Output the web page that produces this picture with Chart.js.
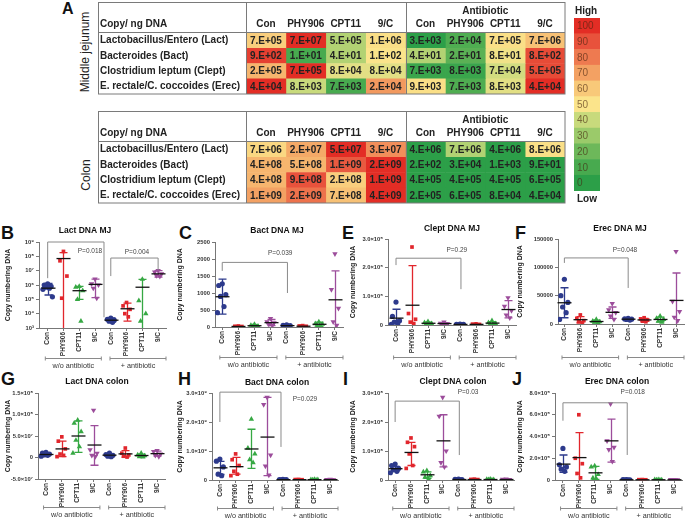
<!DOCTYPE html>
<html><head><meta charset="utf-8">
<script src="https://cdn.jsdelivr.net/npm/chart.js@4.4.1/dist/chart.umd.min.js"></script>
<style>
html,body{margin:0;padding:0;background:#fff}
body{width:685px;height:520px;position:relative;overflow:hidden;font-family:"Liberation Sans",Arial,sans-serif}
canvas{position:absolute}
.L{position:absolute;font-weight:bold;font-size:18px;line-height:1;color:#111}
.V{position:absolute;font-size:12px;line-height:1;color:#222;transform:translate(-50%,-50%) rotate(-90deg);white-space:nowrap}
</style></head><body>
<div class="L" style="left:62px;top:1px;font-size:16px">A</div>
<div class="V" style="left:85px;top:52px">Middle jejunum</div>
<div class="V" style="left:86px;top:175px">Colon</div>
<div class="L" style="left:1px;top:224px">B</div>
<div class="L" style="left:179px;top:224px">C</div>
<div class="L" style="left:342px;top:224px">E</div>
<div class="L" style="left:515px;top:224px">F</div>
<div class="L" style="left:1px;top:370px">G</div>
<div class="L" style="left:178px;top:370px">H</div>
<div class="L" style="left:343px;top:370px">I</div>
<div class="L" style="left:512px;top:370px">J</div>
<script>
const F = '"Liberation Sans", Arial, sans-serif';
Chart.defaults.font.family = F;

// ---------- Heatmap data ----------
const hmCols = ['Con','PHY906','CPT11','9/C','Con','PHY906','CPT11','9/C'];
const hmRows = ['Lactobacillus/Entero (Lact)','Bacteroides (Bact)','Clostridium leptum (Clept)','E. rectale/C. coccoides (Erec)'];
const mjValues = [
 ['7.E+05','7.E+07','5.E+05','1.E+06','3.E+03','2.E+04','7.E+05','7.E+06'],
 ['9.E+02','1.E+01','4.E+01','1.E+02','4.E+01','2.E+01','8.E+01','8.E+02'],
 ['2.E+05','7.E+05','8.E+04','8.E+04','7.E+03','8.E+03','7.E+04','5.E+05'],
 ['4.E+04','8.E+03','7.E+03','2.E+04','9.E+03','7.E+03','8.E+03','4.E+04']];
const mjLevels = [
 [58,100,35,52,0,12,52,62],
 [95,10,35,50,35,15,48,92],
 [65,100,45,45,5,5,42,92],
 [100,40,10,72,52,12,45,100]];
const colonValues = [
 ['7.E+06','2.E+07','5.E+07','3.E+07','4.E+06','7.E+06','4.E+06','8.E+06'],
 ['4.E+08','5.E+08','1.E+09','2.E+09','2.E+02','3.E+04','1.E+03','9.E+01'],
 ['4.E+08','9.E+08','2.E+08','1.E+09','4.E+05','4.E+05','4.E+05','6.E+05'],
 ['1.E+09','2.E+09','7.E+08','4.E+09','2.E+05','6.E+05','8.E+04','4.E+04']];
const colonLevels = [
 [55,68,100,75,0,35,0,52],
 [65,65,88,100,0,0,0,0],
 [65,90,58,100,0,0,0,0],
 [70,82,62,100,0,0,0,0]];
const legendLevels = [100,90,80,70,60,50,40,30,20,10,0];
const legendColors = ['#2c9f48','#48aa4f','#6db85a','#9bca6a','#c8da7c','#fbe48b','#f8c979','#f3a163','#ee7a50','#e8523c','#e32d25'];

// ---------- Dot plot data ----------
const GROUPS = ['Con','PHY906','CPT11','9/C','Con','PHY906','CPT11','9/C'];
const COLORS = ['#2d3a8c','#e1262c','#36a843','#9c4d9b'];
const SHAPES = ['circle','rect','triangle','triangle'];
const ROTS = [0,0,0,180];
const JITTER = [0,-0.22,0.22,-0.11,0.11,-0.3,0.3];

// B Lact DNA MJ
const lactMJ_pts = [
 [1.2e6,1.0e6,8e5,7e5,6e5,5e5,1.5e5],
 [2.2e8,4.9e7,4.2e6,1.2e5],
 [8e5,7e5,4e5,1e5,3e3],
 [2.6e6,1.2e6,1e6,6e5,1.2e5],
 [5e3,4e3,3.5e3,3e3,2.5e3],
 [6e4,3.5e4,2e4,1e4,6e3],
 [2.5e6,8e4,1e4,3e3],
 [1e7,8e6,6e6,4.5e6,4e6]];
const lactMJ_mean = [6e5,7e7,4e5,1.1e6,3.5e3,2.2e4,7e5,6e6];
const lactMJ_lo = [2e5,0,1e5,1.3e5,2.5e3,3e3,0,3.5e6];
const lactMJ_hi = [1.3e6,1.8e8,8e5,2.6e6,5e3,5.5e4,2.5e6,1e7];
// C Bact DNA MJ
const bactMJ_pts = [
 [1270,1220,950,900,600,420],
 [30,20,15,10,5],
 [80,50,30,20,10],
 [250,150,120,80,40],
 [60,50,40,30,20],
 [40,30,20,15,10],
 [150,100,80,50,20],
 [2150,1100,550,150,50]];
const bactMJ_mean = [890,16,38,128,40,23,80,800];
const bactMJ_lo = [380,5,10,40,20,10,20,-50];
const bactMJ_hi = [1410,28,70,220,60,36,140,1650];
// E Clept DNA MJ
const cleptMJ_pts = [
 [8e4,3e4,1.5e4,1e4,5e3,2e3],
 [2.72e5,4e4,2e4,1e4,5e3],
 [1.2e4,8e3,5e3,3e3,2e3],
 [1e4,6e3,4e3,3e3,2e3],
 [3e3,2e3,2e3,1e3,1e3],
 [4e3,3e3,2e3,1e3,1e3],
 [1.5e4,8e3,5e3,3e3,2e3],
 [9.5e4,6.5e4,5e4,3.5e4,2.5e4]];
const cleptMJ_mean = [2.4e4,6.9e4,6e3,5e3,2e3,2.2e3,6.6e3,5.4e4];
const cleptMJ_lo = [-5e3,-6e4,2e3,2e3,1e3,1e3,2e3,2.5e4];
const cleptMJ_hi = [5.5e4,2.07e5,1e4,8e3,3e3,3.5e3,1.2e4,8.5e4];
// F Erec DNA MJ
const erecMJ_pts = [
 [79000,50000,38000,30000,20000,8000],
 [16000,10000,6000,4000,2000],
 [8000,5000,4000,3000,2000],
 [36000,25000,20000,14000,8000],
 [10000,9000,8500,8000,7000],
 [11000,9000,7000,5000,4000],
 [14000,10000,8000,5000,3000],
 [128000,40000,22000,12000,6000]];
const erecMJ_mean = [37500,7600,4400,20600,8500,7200,8000,41600];
const erecMJ_lo = [11000,2000,2000,10000,7500,4500,4000,-5000];
const erecMJ_hi = [64000,13000,7000,30000,9500,10000,12000,90000];
// G Lact DNA colon
const lactCol_pts = [
 [1.2e7,1e7,8e6,6e6,5e6,3e6],
 [4.8e7,3.8e7,2e7,8e6,5e6,2e6],
 [8.7e7,8e7,6e7,4e7,2.5e7,1e7],
 [1.1e8,1.8e7,1e7,5e6,2e6],
 [1e7,7e6,5e6,3e6,2e6],
 [2.2e7,1e7,6e6,3e6,1e6],
 [1e7,6e6,4e6,2e6,1e6],
 [1.6e7,1.4e7,8e6,5e6,2e6]];
const lactCol_mean = [7e6,2e7,5e7,2.9e7,5.4e6,8.4e6,4.6e6,9e6];
const lactCol_lo = [4e6,2e6,1.2e7,-1.8e7,2.5e6,1e6,1.5e6,3e6];
const lactCol_hi = [1e7,3.8e7,8.5e7,7.4e7,8e6,1.6e7,8e6,1.5e7];
// H Bact DNA colon
const bactCol_pts = [
 [7.2e8,6.5e8,4.5e8,2e8,1.5e8],
 [9e8,7e8,5e8,3e8,2e8,1.5e8],
 [2.1e9,1.1e9,9e8,7e8,6e8],
 [2.85e9,2.6e9,8.6e8,4.8e8,1.7e8],
 [2e7,1.5e7,1e7,8e6,5e6],
 [2e7,1.5e7,1e7,8e6,5e6],
 [2e7,1.5e7,1e7,8e6,5e6],
 [2e7,1.5e7,1e7,8e6,5e6]];
const bactCol_mean = [4.2e8,4.6e8,1.07e9,1.48e9,1.2e7,1.2e7,1.2e7,1.2e7];
const bactCol_lo = [1.9e8,2e8,4e8,1.5e8,5e6,5e6,5e6,5e6];
const bactCol_hi = [6.4e8,7.8e8,1.75e9,2.85e9,2e7,2e7,2e7,2e7];
// I Clept DNA colon
const cleptCol_pts = [
 [5.5e7,5e7,4e7,3.5e7,3e7,2.5e7],
 [1.45e8,1.3e8,1.15e8,9e7,5e7,4e7],
 [3.2e7,2.8e7,1.5e7,1e7,3e6],
 [2.85e8,2.2e8,1e8,6e7,4.5e7],
 [3e6,2e6,1.5e6,1e6,5e5],
 [3e6,2e6,1.5e6,1e6,5e5],
 [3e6,2e6,1.5e6,1e6,5e5],
 [3e6,2e6,1.5e6,1e6,5e5]];
const cleptCol_mean = [3.9e7,9.5e7,1.8e7,1.35e8,1.6e6,1.6e6,1.6e6,1.6e6];
const cleptCol_lo = [3e7,5e7,6e6,4.5e7,5e5,5e5,5e5,5e5];
const cleptCol_hi = [4.7e7,1.3e8,2.8e7,2.25e8,3e6,3e6,3e6,3e6];
// J Erec DNA colon
const erecCol_pts = [
 [2.9e5,1.4e5,1.2e5,1e5,8e4],
 [6e5,2e5,1.5e5,6e4,2e4],
 [1.3e5,1.2e5,5e4,2e4,1e4],
 [7e5,3.6e5,3e5,2.8e5,1.7e5],
 [4e3,3e3,2e3,1e3,1e3],
 [4e3,3e3,2e3,1e3,1e3],
 [4e3,3e3,2e3,1e3,1e3],
 [4e3,3e3,2e3,1e3,1e3]];
const erecCol_mean = [1.46e5,2.06e5,6.6e4,3.6e5,2.2e3,2.2e3,2.2e3,2.2e3];
const erecCol_lo = [7e4,-2e4,5e3,1.65e5,1e3,1e3,1e3,1e3];
const erecCol_hi = [2.3e5,4.35e5,1.25e5,5.6e5,4e3,4e3,4e3,4e3];

// ---------- helpers ----------
const SUP = '⁰¹²³⁴⁵⁶⁷⁸⁹';
const sup = n => String(n).split('').map(d => d === '-' ? '⁻' : SUP[+d]).join('');
const sci = v => { if (v === 0) return '0'; const e = Math.floor(Math.log10(Math.abs(v)) + 1e-9); return (v / 10 ** e).toFixed(1) + '×10' + sup(e); };
const pow10 = v => '10' + sup(Math.round(Math.log10(v)));
const plain = v => String(v);

function mk(l, t, w, h) {
  const cv = document.createElement('canvas');
  cv.width = w; cv.height = h;
  cv.style.left = l + 'px'; cv.style.top = t + 'px';
  cv.style.width = w + 'px'; cv.style.height = h + 'px';
  document.body.appendChild(cv);
  return cv;
}
function hex2rgb(h) { return [1, 3, 5].map(i => parseInt(h.substr(i, 2), 16)); }
function levelColor(l) {
  const f = Math.max(0, Math.min(100, l)) / 10, i = Math.min(9, Math.floor(f)), t = f - i;
  const a = hex2rgb(legendColors[i]), b = hex2rgb(legendColors[i + 1]);
  return 'rgb(' + a.map((v, k) => Math.round(v + (b[k] - v) * t)).join(',') + ')';
}

// ---------- Heatmaps ----------
function heatmap(values, levels, g) {
  const cv = mk(g.l, g.t, g.w, g.h);
  const datasets = hmCols.map((c, j) => ({
    data: hmRows.map(() => [j, j + 1]),
    backgroundColor: hmRows.map((_, i) => levelColor(levels[i][j])),
    borderWidth: 0, barPercentage: 1, categoryPercentage: 1, grouped: false
  }));
  new Chart(cv, {
    type: 'bar', data: {labels: hmRows, datasets},
    options: {
      indexAxis: 'y', responsive: false, animation: false, events: [],
      layout: {padding: {left: 4, right: g.w - g.right, top: 2, bottom: g.h - g.bottom}},
      plugins: {legend: {display: false}, tooltip: {enabled: false}},
      scales: {
        x: {type: 'linear', position: 'top', min: 0, max: 8,
            afterBuildTicks: s => { s.ticks = hmCols.map((_, j) => ({value: j + 0.5})); },
            afterFit: s => { s.height = g.top - 2; },
            ticks: {callback: (v, i) => hmCols[i], font: {size: 10, weight: 'bold'}, color: '#222', padding: 3, maxRotation: 0, autoSkip: false},
            grid: {display: false, drawTicks: false}, border: {display: false}},
        y: {afterFit: s => { s.width = g.left - 4; },
            ticks: {crossAlign: 'far', font: {size: 10, weight: 'bold'}, color: '#222', padding: 0},
            grid: {display: false, drawTicks: false}, border: {display: false}}
      }
    },
    plugins: [{id: 'hm', afterDraw(chart) {
      const c = chart.ctx, ca = chart.chartArea, xs = chart.scales.x, ys = chart.scales.y;
      c.save();
      c.font = 'bold 10px ' + F; c.fillStyle = '#222'; c.textAlign = 'center'; c.textBaseline = 'middle';
      values.forEach((row, i) => row.forEach((t, j) => c.fillText(t, xs.getPixelForValue(j + 0.5), ys.getPixelForValue(i) + 0.5)));
      c.strokeStyle = '#7a7a7a'; c.lineWidth = 1;
      c.strokeRect(2.5, 2.5, Math.round(ca.right) - 2.5, Math.round(ca.bottom) - 2.5);
      [0, 4].forEach(v => { const x = Math.round(xs.getPixelForValue(v)) + 0.5; c.beginPath(); c.moveTo(x, 2.5); c.lineTo(x, ca.bottom); c.stroke(); });
      const yh = Math.round(ca.top) - 0.5;
      c.beginPath(); c.moveTo(2.5, yh); c.lineTo(ca.right, yh); c.stroke();
      c.textAlign = 'left'; c.textBaseline = 'alphabetic';
      c.fillText('Copy/ ng DNA', 4, g.top - 6);
      c.textAlign = 'center'; c.textBaseline = 'middle';
      c.fillText('Antibiotic', xs.getPixelForValue(6), 11);
      c.restore();
    }}]
  });
}
heatmap(mjValues, mjLevels, {l: 96, t: 0, w: 474, h: 100, left: 150, right: 469, top: 33, bottom: 97});
heatmap(colonValues, colonLevels, {l: 96, t: 109, w: 474, h: 100, left: 150, right: 469, top: 33, bottom: 98});

// ---------- Legend ----------
(function () {
  const g = {l: 570, t: 0, w: 40, h: 210};
  const cv = mk(g.l, g.t, g.w, g.h);
  new Chart(cv, {
    type: 'bar',
    data: {labels: legendLevels.map(String), datasets: [{data: legendLevels.map(() => [0, 1]), backgroundColor: legendLevels.map(levelColor), borderWidth: 0, barPercentage: 1, categoryPercentage: 1}]},
    options: {
      indexAxis: 'y', responsive: false, animation: false, events: [],
      layout: {padding: {left: 4, right: 10, top: 18, bottom: 19}},
      plugins: {legend: {display: false}, tooltip: {enabled: false}},
      scales: {x: {display: false, min: 0, max: 1}, y: {display: false}}
    },
    plugins: [{id: 'lg', afterDraw(chart) {
      const c = chart.ctx, ca = chart.chartArea, ys = chart.scales.y;
      c.save();
      c.font = '10px ' + F; c.textBaseline = 'middle'; c.textAlign = 'left'; c.fillStyle = 'rgba(70,35,15,0.62)';
      legendLevels.forEach((v, i) => c.fillText(String(v), ca.left + 3, ys.getPixelForValue(i) + 0.5));
      c.fillStyle = '#222'; c.font = 'bold 10px ' + F;
      c.fillText('High', ca.left + 1, 11);
      c.fillText('Low', ca.left + 3, 199);
      c.restore();
    }}]
  });
})();

// ---------- Dot panels ----------
function overlay(p) {
  return {id: 'ov', afterDraw(chart) {
    const c = chart.ctx, xs = chart.scales.x, ys = chart.scales.y, ca = chart.chartArea;
    const Y = v => (p.log && v <= 0) ? ca.bottom : ys.getPixelForValue(v);
    c.save();
    for (let g = 0; g < 8; g++) {
      const x = Math.round(xs.getPixelForValue(g)) + 0.5;
      const yh = Y(p.hi[g]), ylRaw = Y(p.lo[g]), yl = Math.min(ca.bottom, ylRaw), ym = Y(p.mean[g]);
      c.strokeStyle = COLORS[g % 4]; c.lineWidth = 1.3;
      c.beginPath(); c.moveTo(x, yl); c.lineTo(x, yh);
      c.moveTo(x - 4, yh); c.lineTo(x + 4, yh);
      if (ylRaw < ca.bottom - 0.5) { c.moveTo(x - 4, yl); c.lineTo(x + 4, yl); }
      c.stroke();
      c.strokeStyle = '#111'; c.beginPath(); c.moveTo(x - 7, ym); c.lineTo(x + 7, ym); c.stroke();
    }
    c.strokeStyle = '#8a8a8a'; c.lineWidth = 1;
    p.brackets.forEach(b => {
      const x1 = xs.getPixelForValue(b.x1), x2 = xs.getPixelForValue(b.x2), yt = Y(b.top);
      c.beginPath(); c.moveTo(x1, Y(b.l)); c.lineTo(x1, yt); c.lineTo(x2, yt); c.lineTo(x2, Y(b.r)); c.stroke();
      c.fillStyle = '#444'; c.font = '6.5px ' + F; c.textAlign = 'center'; c.textBaseline = 'middle';
      c.fillText(b.text, xs.getPixelForValue(b.tx), Y(b.ty));
    });
    const by = Math.round(ca.bottom + p.brk) + 0.5;
    c.fillStyle = '#333'; c.font = '7.2px ' + F; c.textAlign = 'center'; c.textBaseline = 'middle';
    [[-0.15, 3.4, 'w/o antibiotic'], [3.95, 7.5, '+ antibiotic']].forEach(([a, b2, t]) => {
      const x1 = xs.getPixelForValue(a), x2 = xs.getPixelForValue(b2);
      c.beginPath(); c.moveTo(x1, by); c.lineTo(x2, by);
      c.moveTo(x1, by - 2); c.lineTo(x1, by + 2); c.moveTo(x2, by - 2); c.lineTo(x2, by + 2); c.stroke();
      c.fillText(t, (x1 + x2) / 2, by + 8);
    });
    c.fillStyle = '#111'; c.font = 'bold 8.5px ' + F;
    c.fillText(p.title, p.titleX - p.l, p.titleY - p.t);
    c.restore();
  }};
}

function dotPanel(p) {
  const cv = mk(p.l, p.t, p.w, p.h);
  const datasets = p.pts.map((arr, g) => ({
    data: arr.map((v, j) => ({x: g + JITTER[j % JITTER.length], y: v})).filter(d => !p.log || d.y > 0),
    pointStyle: SHAPES[g % 4], rotation: ROTS[g % 4],
    pointRadius: g % 4 >= 2 ? 3.1 : 2.6,
    backgroundColor: COLORS[g % 4], borderColor: COLORS[g % 4], borderWidth: 0
  }));
  new Chart(cv, {
    type: 'scatter', data: {datasets},
    options: {
      responsive: false, animation: false, events: [],
      layout: {padding: {left: 0, top: p.yTop - p.t, right: p.l + p.w - p.xRight, bottom: 0}},
      plugins: {legend: {display: false}, tooltip: {enabled: false}},
      scales: {
        x: {type: 'linear', min: p.xMin, max: 7.5,
            afterBuildTicks: s => { s.ticks = GROUPS.map((_, i) => ({value: i})); },
            afterFit: s => { s.height = p.t + p.h - p.yBottom; },
            ticks: {autoSkip: false, minRotation: 90, maxRotation: 90, callback: (v, i) => GROUPS[i], font: {size: 6.5, weight: 'bold'}, color: '#333', padding: 1},
            grid: {drawOnChartArea: false, tickLength: 3, color: '#777'}, border: {color: '#777', width: 1}},
        y: {type: p.log ? 'logarithmic' : 'linear', min: p.yMin, max: p.yMax,
            afterBuildTicks: s => { s.ticks = p.yTicks.map(v => ({value: v})); },
            afterFit: s => { s.width = p.axisX - p.l; },
            ticks: {callback: (v, i) => p.fmt(p.yTicks[i]), font: {size: 5.8, weight: 'bold'}, color: '#333', padding: 2},
            grid: {drawOnChartArea: false, tickLength: 3, color: '#777'}, border: {color: '#777', width: 1},
            title: {display: true, text: 'Copy numbering DNA', font: {size: 7, weight: 'bold'}, color: '#222', padding: {top: 4, bottom: 0}}}
      }
    },
    plugins: [overlay(p)]
  });
}

dotPanel({l: 0, t: 222, w: 174, h: 150, axisX: 39, xRight: 166, yTop: 242, yBottom: 328, xMin: -0.55, brk: 30,
  log: true, yMin: 1e3, yMax: 1e9, yTicks: [1e3,1e4,1e5,1e6,1e7,1e8,1e9], fmt: pow10,
  pts: lactMJ_pts, mean: lactMJ_mean, lo: lactMJ_lo, hi: lactMJ_hi, title: 'Lact DNA MJ', titleX: 85, titleY: 231,
  brackets: [{x1: 0, x2: 3.57, top: 1e9, l: 3e6, r: 5.6e3, text: 'P=0.018', tx: 2.68, ty: 2.3e8},
             {x1: 4, x2: 7, top: 7.6e7, l: 4.2e6, r: 1.1e7, text: 'P=0.004', tx: 5.66, ty: 2e8}]});
dotPanel({l: 172, t: 222, w: 179, h: 150, axisX: 215, xRight: 343, yTop: 242, yBottom: 327, xMin: -0.45, brk: 30,
  yMin: 0, yMax: 2500, yTicks: [0,500,1000,1500,2000,2500], fmt: plain,
  pts: bactMJ_pts, mean: bactMJ_mean, lo: bactMJ_lo, hi: bactMJ_hi, title: 'Bact DNA MJ', titleX: 277, titleY: 231,
  brackets: [{x1: 0, x2: 4.05, top: 1900, l: 1650, r: 1000, text: 'P=0.039', tx: 3.6, ty: 2180}]});
dotPanel({l: 345, t: 222, w: 179, h: 150, axisX: 388, xRight: 516, yTop: 239, yBottom: 325, xMin: -0.5, brk: 32,
  yMin: 0, yMax: 3e5, yTicks: [0,1e5,2e5,3e5], fmt: sci,
  pts: cleptMJ_pts, mean: cleptMJ_mean, lo: cleptMJ_lo, hi: cleptMJ_hi, title: 'Clept DNA MJ', titleX: 452, titleY: 229,
  brackets: [{x1: 0, x2: 4.06, top: 2.33e5, l: 2.09e5, r: 1.25e5, text: 'P=0.29', tx: 3.8, ty: 2.6e5}]});
dotPanel({l: 512, t: 222, w: 180, h: 150, axisX: 558, xRight: 684, yTop: 239, yBottom: 324, xMin: -0.4, brk: 33,
  yMin: 0, yMax: 150000, yTicks: [0,50000,100000,150000], fmt: plain,
  pts: erecMJ_pts, mean: erecMJ_mean, lo: erecMJ_lo, hi: erecMJ_hi, title: 'Erec DNA MJ', titleX: 620, titleY: 229,
  brackets: [{x1: 0, x2: 4.0, top: 116600, l: 107800, r: 63600, text: 'P=0.048', tx: 3.8, ty: 130700}]});
dotPanel({l: 0, t: 372, w: 174, h: 148, axisX: 38, xRight: 165, yTop: 393, yBottom: 479, xMin: -0.5, brk: 28,
  yMin: -5e7, yMax: 1.5e8, yTicks: [-5e7,0,5e7,1e8,1.5e8], fmt: sci,
  pts: lactCol_pts, mean: lactCol_mean, lo: lactCol_lo, hi: lactCol_hi, title: 'Lact DNA colon', titleX: 97, titleY: 382,
  brackets: []});
dotPanel({l: 172, t: 372, w: 178, h: 148, axisX: 212, xRight: 338, yTop: 393, yBottom: 480, xMin: -0.5, brk: 28,
  yMin: 0, yMax: 3e9, yTicks: [0,1e9,2e9,3e9], fmt: sci,
  pts: bactCol_pts, mean: bactCol_mean, lo: bactCol_lo, hi: bactCol_hi, title: 'Bact DNA colon', titleX: 277, titleY: 383,
  brackets: [{x1: 0, x2: 3.88, top: 3.03e9, l: 2.0e9, r: 1.14e9, text: 'P=0.029', tx: 5.4, ty: 2.79e9}]});
dotPanel({l: 345, t: 372, w: 177, h: 148, axisX: 388, xRight: 514, yTop: 393, yBottom: 480, xMin: -0.45, brk: 28,
  yMin: 0, yMax: 3e8, yTicks: [0,1e8,2e8,3e8], fmt: sci,
  pts: cleptCol_pts, mean: cleptCol_mean, lo: cleptCol_lo, hi: cleptCol_hi, title: 'Clept DNA colon', titleX: 453, titleY: 382,
  brackets: [{x1: 0, x2: 4.05, top: 2.72e8, l: 2.0e8, r: 0.86e8, text: 'P=0.03', tx: 4.6, ty: 3.03e8}]});
dotPanel({l: 512, t: 372, w: 178, h: 148, axisX: 555, xRight: 682, yTop: 393, yBottom: 480, xMin: -0.5, brk: 28,
  yMin: 0, yMax: 8e5, yTicks: [0,2e5,4e5,6e5,8e5], fmt: sci,
  pts: erecCol_pts, mean: erecCol_mean, lo: erecCol_lo, hi: erecCol_hi, title: 'Erec DNA colon', titleX: 617, titleY: 382,
  brackets: [{x1: 0, x2: 4.05, top: 7.1e5, l: 5.45e5, r: 2.3e5, text: 'P=0.018', tx: 4.4, ty: 8.1e5}]});
</script></body></html>
